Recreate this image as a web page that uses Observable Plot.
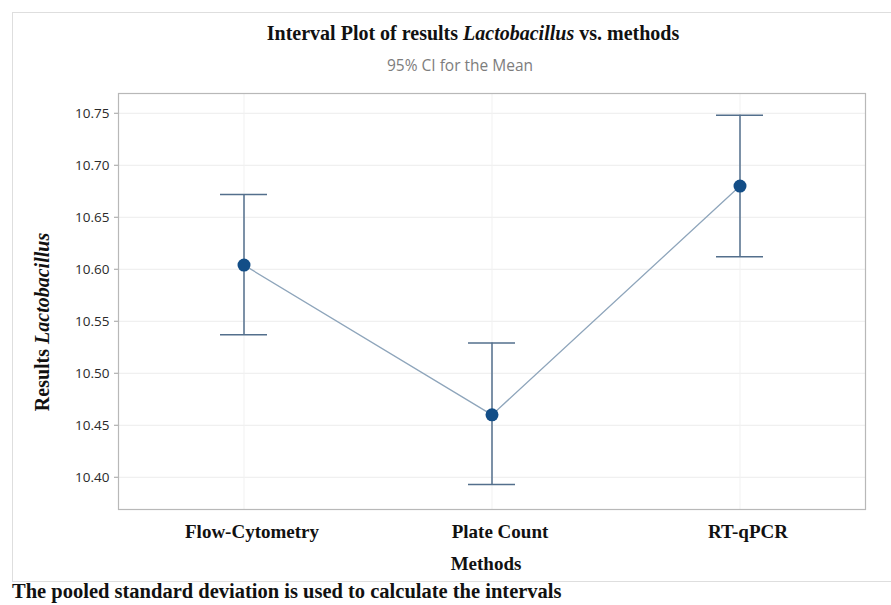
<!DOCTYPE html>
<html><head><meta charset="utf-8">
<script src="https://cdn.jsdelivr.net/npm/d3@7"></script>
<script src="https://cdn.jsdelivr.net/npm/@observablehq/plot@0.6"></script>
<style>
html,body{margin:0;padding:0;background:#fff;overflow:hidden}
#wrap{position:relative;width:891px;height:605px;overflow:hidden;background:#fff}
.t{position:absolute;white-space:nowrap;line-height:1}
.serif{font-family:"Liberation Serif","DejaVu Serif",serif;font-weight:bold;color:#111}
#chart{position:absolute;left:0;top:80px}
</style></head><body>
<div id="wrap">
  <div style="position:absolute;left:12px;top:12px;width:900px;height:570px;border:1px solid #dedede;box-sizing:border-box"></div>
  <div class="t serif" style="left:473px;top:33px;transform:translate(-50%,-50%);font-size:20px">Interval Plot of results <i>Lactobacillus</i> vs. methods</div>
  <div class="t" style="left:460px;top:66px;transform:translate(-50%,-50%);font-size:15.5px;font-family:'Open Sans',sans-serif;color:#7d7d7d">95% CI for the Mean</div>
  <div id="chart"></div>
  <div class="t serif" style="left:42px;top:322px;transform:translate(-50%,-50%) rotate(-90deg);font-size:20px">Results <i>Lactobacillus</i></div>
  <div class="t serif" style="left:486px;top:563px;transform:translate(-50%,-50%);font-size:19px">Methods</div>
  <div class="t serif" style="left:12px;top:591px;transform:translate(0,-50%);font-size:20.5px">The pooled standard deviation is used to calculate the intervals</div>
</div>
<script>
const methods = ["Flow-Cytometry", "Plate Count", "RT-qPCR"];
const means = [10.604, 10.460, 10.680];
const lower = [10.537, 10.393, 10.612];
const upper = [10.672, 10.529, 10.748];
const yTicks = [10.40, 10.45, 10.50, 10.55, 10.60, 10.65, 10.70, 10.75];

const data = methods.map((m, i) => ({method: m, mean: means[i], lo: lower[i], hi: upper[i]}));
const barColor = "#536f8c";

const chart = Plot.plot({
  width: 891, height: 500,
  marginLeft: 118, marginRight: 26, marginTop: 13, marginBottom: 71,
  style: {background: "transparent", fontFamily: "'Open Sans', sans-serif", overflow: "visible"},
  x: {type: "band", domain: methods, paddingInner: 0.811, paddingOuter: 0.4056, align: 0.5},
  y: {domain: [10.369, 10.769]},
  marks: [
    Plot.gridY(yTicks, {stroke: "#ececec", strokeOpacity: 1}),
    Plot.gridX(methods, {stroke: "#f1f1f1", strokeOpacity: 1}),
    Plot.axisY(yTicks, {tickFormat: d3.format(".2f"), tickSize: 4, tickPadding: 5, stroke: "#a0a0a0", fontSize: 13.5, fill: "#2a2a2a", label: null}),
    Plot.axisX(methods, {tickSize: 0, tickPadding: 15, dx: 8, fontSize: 19, fontFamily: "'Liberation Serif', serif", fontWeight: "bold", fill: "#111", label: null}),
    Plot.frame({stroke: "#b8b8b8", strokeWidth: 1.2}),
    Plot.line(data, {x: "method", y: "mean", stroke: "#8ea5bb", strokeWidth: 1.3}),
    Plot.ruleX(data, {x: "method", y1: "lo", y2: "hi", stroke: barColor, strokeWidth: 1.5}),
    Plot.tickY(data, {x: "method", y: "lo", stroke: barColor, strokeWidth: 1.5}),
    Plot.tickY(data, {x: "method", y: "hi", stroke: barColor, strokeWidth: 1.5}),
    Plot.dot(data, {x: "method", y: "mean", r: 6.5, fill: "#134e87", stroke: "none"})
  ]
});
document.getElementById("chart").appendChild(chart);
</script>
</body></html>
